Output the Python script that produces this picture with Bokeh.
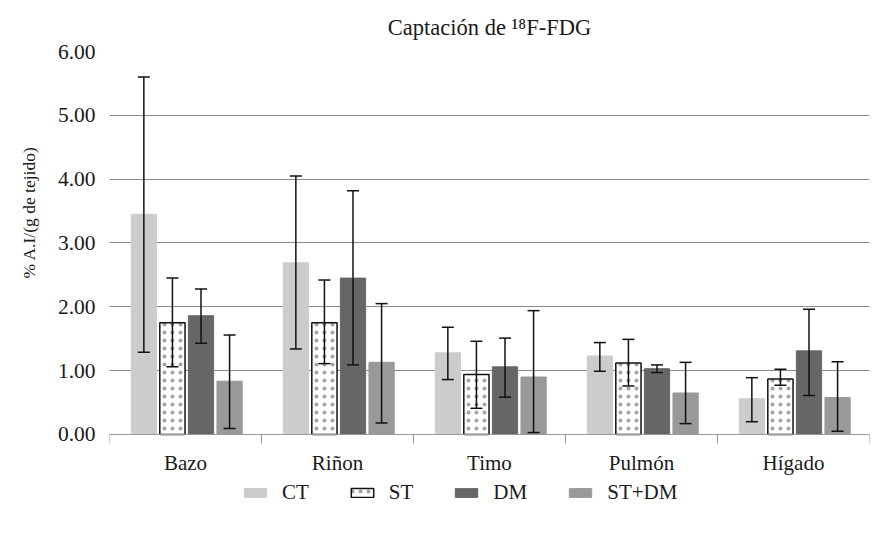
import numpy as np
from bokeh.plotting import figure
from bokeh.models import (ColumnDataSource, Range1d, FixedTicker, NumeralTickFormatter,
                          Whisker, TeeHead, Legend, LegendItem, LinearAxis, Title)
from bokeh.embed import file_html
from bokeh.resources import INLINE

categories = ["Bazo", "Riñon", "Timo", "Pulmón", "Hígado"]
series = ["CT", "ST", "DM", "ST+DM"]
ct = [3.45, 2.69, 1.28, 1.23, 0.56]
ct_hi = [5.60, 4.05, 1.68, 1.44, 0.89]
ct_lo = [1.29, 1.34, 0.86, 0.99, 0.20]
st = [1.75, 1.75, 0.94, 1.12, 0.87]
st_hi = [2.45, 2.42, 1.46, 1.49, 1.02]
st_lo = [1.06, 1.11, 0.41, 0.76, 0.77]
dm = [1.86, 2.45, 1.06, 1.03, 1.31]
dm_hi = [2.28, 3.82, 1.51, 1.09, 1.96]
dm_lo = [1.43, 1.09, 0.585, 0.97, 0.61]
stdm = [0.835, 1.13, 0.90, 0.65, 0.58]
stdm_hi = [1.56, 2.05, 1.94, 1.13, 1.14]
stdm_lo = [0.094, 0.18, 0.03, 0.17, 0.05]
y_ticks = [0, 1, 2, 3, 4, 5, 6]

FONT = "Liberation Serif"
TXT = "#1a1a1a"

p = figure(width=873, height=525, output_backend="svg", toolbar_location=None,
           x_range=Range1d(0, len(categories)), y_range=Range1d(-1.426, 6),
           x_axis_location=None,
           min_border_left=106, min_border_right=4, min_border_top=51, min_border_bottom=0)
p.outline_line_color = None
p.add_layout(Title(text="Captación de ¹⁸F-FDG", align="center", standoff=24,
                   text_font=FONT, text_font_style="normal", text_font_size="22.5px",
                   text_color=TXT), "above")

p.xgrid.grid_line_color = None
p.ygrid.grid_line_color = "#8c8c8c"
p.ygrid.grid_line_width = 1

p.yaxis.ticker = FixedTicker(ticks=y_ticks)
p.yaxis.formatter = NumeralTickFormatter(format="0.00")
p.yaxis.axis_line_color = None
p.yaxis.major_tick_line_color = None
p.yaxis.minor_tick_line_color = None
p.yaxis.major_label_text_font = FONT
p.yaxis.major_label_text_font_size = "21.5px"
p.yaxis.major_label_text_color = TXT
p.yaxis.major_label_standoff = 8

ylab = Title(text="% A.I/(g de tejido)", align="left", offset=247, standoff=32,
             text_font=FONT, text_font_style="normal", text_font_size="17.5px",
             text_color=TXT)
p.add_layout(ylab, "left")

idx = np.arange(len(categories))
centers = idx + 0.5
xaxis = LinearAxis(fixed_location=0,
                   ticker=FixedTicker(ticks=list(centers),
                                      minor_ticks=list(np.arange(len(categories) + 1))))
xaxis.major_label_overrides = {float(c): cat for c, cat in zip(centers, categories)}
xaxis.major_tick_line_color = None
xaxis.minor_tick_line_color = "#999999"
xaxis.minor_tick_out = 9
xaxis.minor_tick_in = 0
xaxis.axis_line_color = "#999999"
xaxis.major_label_text_font = FONT
xaxis.major_label_text_font_size = "21px"
xaxis.major_label_text_color = TXT
xaxis.major_label_standoff = 8
p.add_layout(xaxis, "below")

offsets = [-0.282, -0.094, 0.094, 0.282]
shift = 0.008
width = 0.166
values = [ct, st, dm, stdm]
highs = [ct_hi, st_hi, dm_hi, stdm_hi]
lows = [ct_lo, st_lo, dm_lo, stdm_lo]
fills = ["#cccccc", "white", "#666666", "#999999"]

items = []
for name, vals, hi, lo, off, fill in zip(series, values, highs, lows, offsets, fills):
    src = ColumnDataSource(dict(x=centers + off + shift, top=vals, upper=hi, lower=lo))
    if name == "ST":
        r = p.vbar(x="x", top="top", width=width, source=src, fill_color="white",
                   line_color="#111111", line_width=1.5,
                   hatch_pattern=".", hatch_color="#333333", hatch_alpha=0.45,
                   hatch_scale=8, hatch_weight=0.3)
    else:
        r = p.vbar(x="x", top="top", width=width, source=src, fill_color=fill,
                   line_color=fill, line_width=1)
    w = Whisker(base="x", upper="upper", lower="lower", source=src, dimension="height",
                line_color="#111111", line_width=1.5, level="overlay",
                upper_head=TeeHead(size=12, line_color="#111111", line_width=1.5),
                lower_head=TeeHead(size=12, line_color="#111111", line_width=1.5))
    p.add_layout(w)
    items.append(LegendItem(label=name, renderers=[r]))

legend = Legend(items=items, orientation="horizontal", location=(132, 20),
                glyph_width=28, glyph_height=11, label_standoff=13, spacing=39,
                label_text_font=FONT, label_text_font_size="21px", label_text_color=TXT,
                border_line_color=None, background_fill_alpha=0, padding=4, margin=0)
p.add_layout(legend, "center")

open("out.html", "w").write(file_html(p, INLINE))
